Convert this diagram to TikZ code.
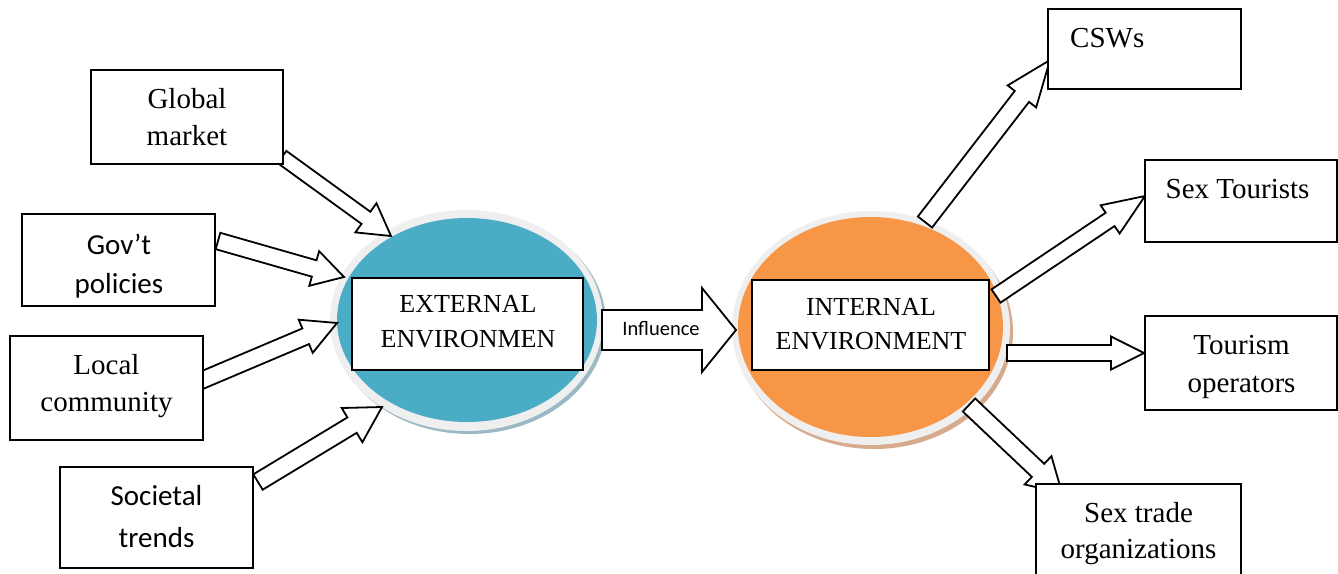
\documentclass[tikz,border=0pt]{standalone}
\usepackage{fontspec}
\setmainfont{Liberation Serif}
\newfontfamily\calibri{Carlito}
\usetikzlibrary{calc,shapes.geometric}
\definecolor{extblue}{HTML}{4BACC6}
\definecolor{intorange}{HTML}{F79646}
\definecolor{ringgrey}{HTML}{EFEFEF}
\definecolor{blueshadow}{HTML}{9BB9C4}
\definecolor{orangeshadow}{HTML}{D6AA8A}
% block arrow: from #1 to #2, half shaft #3, half head #4, head length #5
\newcommand\blockarrow[5]{%
  \coordinate (ba-c) at ($(#2)!#5!(#1)$);
  \draw[blockarr] ($(#1)!#3!90:(#2)$) -- ($(ba-c)!#3!90:(#2)$) -- ($(ba-c)!#4!90:(#2)$) -- (#2)
    -- ($(ba-c)!#4!-90:(#2)$) -- ($(ba-c)!#3!-90:(#2)$) -- ($(#1)!#3!-90:(#2)$) -- cycle;}
\begin{document}
\begin{tikzpicture}[x=1pt,y=-1pt,
  box/.style={draw=black, line width=1.5pt, fill=white, rectangle, inner sep=0pt, outer sep=0pt},
  blockarr/.style={draw=black, fill=white, line width=1.8pt, line join=miter},
  oval/.style={ellipse, draw=none, inner sep=0pt, outer sep=0pt},
  tnr/.style={anchor=base, inner sep=0pt, font=\fontsize{29}{37}\selectfont},
  cal/.style={anchor=base, inner sep=0pt, font=\calibri\fontsize{29}{42}\selectfont},
  inn/.style={anchor=base, inner sep=0pt, font=\fontsize{26}{34}\selectfont},
  lft/.style={anchor=base west, inner sep=0pt, font=\fontsize{29}{37}\selectfont}]
\useasboundingbox (0,0) rectangle (1338,573);

% ellipses
\node[oval, fill=blueshadow, minimum width=273pt, minimum height=221pt] (extsh) at (469.5,323.5) {};
\node[oval, fill=ringgrey, minimum width=273pt, minimum height=221pt] (extring) at (466.5,320.5) {};
\node[oval, fill=extblue, minimum width=260pt, minimum height=204pt] (extov) at (467,320) {};
\node[oval, fill=orangeshadow, minimum width=278pt, minimum height=234pt] (intsh) at (874,332) {};
\node[oval, fill=ringgrey, minimum width=278pt, minimum height=234pt] (intring) at (871,328) {};
\node[oval, fill=intorange, minimum width=265pt, minimum height=220pt] (intov) at (870.5,327) {};

% arrow end points
\coordinate (a1s) at (282,157); \coordinate (a1e) at (391,236);
\coordinate (a2s) at (218,241); \coordinate (a2e) at (344,277);
\coordinate (a3s) at (200,381); \coordinate (a3e) at (337,323);
\coordinate (a4s) at (258,482); \coordinate (a4e) at (382,407);
\coordinate (a5s) at (602,330); \coordinate (a5e) at (736,330);
\coordinate (a6s) at (925,222); \coordinate (a6e) at (1050,60);
\coordinate (a7s) at (996,296); \coordinate (a7e) at (1145,196);
\coordinate (a8s) at (1007,353); \coordinate (a8e) at (1144,353);
\coordinate (a9s) at (969,405); \coordinate (a9e) at (1062,493);

\blockarrow{a1s}{a1e}{7.5pt}{18pt}{31pt}
\blockarrow{a2s}{a2e}{8.5pt}{18pt}{31pt}
\blockarrow{a3s}{a3e}{8.5pt}{18pt}{34pt}
\blockarrow{a4s}{a4e}{9pt}{20pt}{35pt}
\blockarrow{a5s}{a5e}{20pt}{42pt}{34pt}
\blockarrow{a6s}{a6e}{9pt}{18pt}{46pt}
\blockarrow{a7s}{a7e}{8pt}{17pt}{42pt}
\blockarrow{a8s}{a8e}{8pt}{16.5pt}{33pt}
\blockarrow{a9s}{a9e}{9pt}{19.5pt}{33pt}

% boxes
\node[box, minimum width=192pt, minimum height=94pt] (gm) at (187,117) {};
\node[box, minimum width=193pt, minimum height=92pt] (gp) at (118.5,260) {};
\node[box, minimum width=193pt, minimum height=104pt] (lc) at (106.5,388) {};
\node[box, minimum width=193pt, minimum height=101pt] (st) at (156.5,517.5) {};
\node[box, minimum width=231pt, minimum height=92pt] (extb) at (467.5,324) {};
\node[box, minimum width=237pt, minimum height=90pt] (intb) at (870.5,325) {};
\node[box, minimum width=193pt, minimum height=80pt] (cs) at (1144.5,49) {};
\node[box, minimum width=192pt, minimum height=82pt] (stour) at (1241,201) {};
\node[box, minimum width=192pt, minimum height=94pt] (to) at (1241,363) {};
\node[box, minimum width=205pt, minimum height=116pt] (sto) at (1138.5,542) {};

% texts
\node[tnr] (gm1) at (187,108) {Global};
\node[tnr] (gm2) at (187,145) {market};
\node[cal] (gp1) at (119,254) {Gov’t};
\node[cal] (gp2) at (119,293) {policies};
\node[tnr] (lc1) at (106.5,374) {Local};
\node[tnr] (lc2) at (106.5,411.5) {community};
\node[cal] (st1) at (156.5,505) {Societal};
\node[cal] (st2) at (156.5,547) {trends};
\node[inn] (ex1) at (468,312) {EXTERNAL};
\node[inn] (ex2) at (468,347) {ENVIRONMEN};
\node[inn] (in1) at (871,315) {INTERNAL};
\node[inn] (in2) at (871,349) {ENVIRONMENT};
\node[anchor=base, inner sep=0pt, font=\calibri\fontsize{20.5}{24}\selectfont] (infl) at (661,335) {Influence};
\node[lft] (cs1) at (1070,47) {CSWs};
\node[lft] (stour1) at (1165.5,198) {Sex Tourists};
\node[tnr] (to1) at (1241.5,354) {Tourism};
\node[tnr] (to2) at (1241.5,392) {operators};
\node[tnr] (sto1) at (1138.5,522) {Sex trade};
\node[tnr] (sto2) at (1138.5,558) {organizations};
\end{tikzpicture}
\end{document}
